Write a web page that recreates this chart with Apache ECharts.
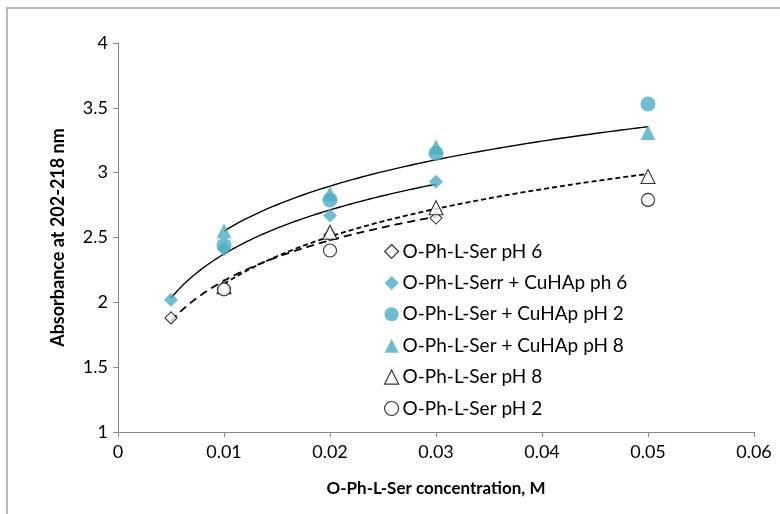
<!DOCTYPE html>
<html>
<head>
<meta charset="utf-8">
<script src="https://cdn.jsdelivr.net/npm/echarts@6/dist/echarts.min.js"></script>
<style>
html,body{margin:0;padding:0;background:#fff;}
#chart{width:780px;height:514px;}
</style>
</head>
<body>
<div id="chart"></div>
<script>
// Data
const xTicks = [0, 0.01, 0.02, 0.03, 0.04, 0.05, 0.06];
const yTicks = [1, 1.5, 2, 2.5, 3, 3.5, 4];

const ph6X = [0.005, 0.01, 0.02, 0.03];
const ph6Y = [1.88, 2.11, 2.52, 2.65];

const cuPh6X = [0.005, 0.01, 0.02, 0.03];
const cuPh6Y = [2.02, 2.41, 2.67, 2.93];

const cuPh2X = [0.01, 0.02, 0.03, 0.05];
const cuPh2Y = [2.44, 2.79, 3.15, 3.53];

const cuPh8X = [0.01, 0.02, 0.03, 0.05];
const cuPh8Y = [2.55, 2.84, 3.20, 3.31];

const ph8X = [0.01, 0.02, 0.03, 0.05];
const ph8Y = [2.12, 2.54, 2.73, 2.97];

const ph2X = [0.01, 0.02, 0.05];
const ph2Y = [2.10, 2.40, 2.79];

const CYAN = '#4bacc6';
const FONT = 'Lato';

function pairs(xs, ys){ return xs.map((x,i)=>[x, ys[i]]); }

// logarithmic trendline (least squares on ln x), as the spreadsheet draws it
function logTrend(xs, ys){
  const n = xs.length;
  const lx = xs.map(Math.log);
  const mx = lx.reduce((a,b)=>a+b,0)/n;
  const my = ys.reduce((a,b)=>a+b,0)/n;
  let sxy=0, sxx=0;
  for(let i=0;i<n;i++){ sxy += (lx[i]-mx)*(ys[i]-my); sxx += (lx[i]-mx)*(lx[i]-mx); }
  const b = sxy/sxx, a = my - b*mx;
  const x0 = Math.min(...xs), x1 = Math.max(...xs);
  const out = [];
  const steps = 80;
  for(let k=0;k<=steps;k++){
    const x = x0 + (x1-x0)*k/steps;
    out.push([x, a + b*Math.log(x)]);
  }
  return out;
}

function trend(xs, ys, type, width){
  return {
    type:'line', data: logTrend(xs, ys), showSymbol:false, symbol:'none', smooth:false,
    lineStyle:{color:'#000', width:width, type:type}, silent:true, z:3, legendHoverLink:false
  };
}

function scatter(name, xs, ys, symbol, size, filled){
  return {
    name:name, type:'scatter', data: pairs(xs, ys), symbol:symbol, symbolSize:size,
    itemStyle: filled ? {color:CYAN} : {color:'#fff', borderColor:'#000', borderWidth:1.1},
    z:4
  };
}

const names = [
  'O-Ph-L-Ser pH 6',
  'O-Ph-L-Serr + CuHAp ph 6',
  'O-Ph-L-Ser + CuHAp pH 2',
  'O-Ph-L-Ser + CuHAp pH 8',
  'O-Ph-L-Ser pH 8',
  'O-Ph-L-Ser pH 2'
];

const chart = echarts.init(document.getElementById('chart'));
chart.setOption({
  animation:false,
  backgroundColor:'#fff',
  graphic:[
    {type:'line', shape:{x1:6, y1:8, x2:780, y2:8}, style:{stroke:'#a6a6a6', lineWidth:1.5}},
    {type:'line', shape:{x1:7, y1:8, x2:7, y2:514}, style:{stroke:'#a6a6a6', lineWidth:1.5}}
  ],
  grid:{left:118, right:26, top:43, bottom:82},
  legend:{
    data: names.map((n,i)=>({name:n, itemStyle: i===0||i>=4 ? {color:'#fff', borderColor:'#000', borderWidth:1.2} : {color:CYAN}})),
    orient:'vertical', left:379, top:237, itemWidth:14, itemHeight:14, itemGap:12.4,
    textStyle:{fontFamily:FONT, fontSize:19, color:'#000', padding:[0,0,0,-1]},
    selectedMode:false
  },
  xAxis:{
    type:'value', min:0, max:0.06, interval:0.01,
    axisLine:{show:true, lineStyle:{color:'#868686', width:1}},
    axisTick:{show:true, length:5, lineStyle:{color:'#868686'}},
    splitLine:{show:false},
    axisLabel:{fontFamily:FONT, fontSize:18, color:'#000', margin:11,
      formatter: v => String(parseFloat(v.toFixed(2)))},
    name:'O-Ph-L-Ser concentration, M', nameLocation:'middle', nameGap:48,
    nameTextStyle:{fontFamily:FONT, fontSize:17, fontWeight:'bold', color:'#000'}
  },
  yAxis:{
    type:'value', min:1, max:4, interval:0.5,
    axisLine:{show:true, lineStyle:{color:'#868686', width:1}},
    axisTick:{show:true, length:5, lineStyle:{color:'#868686'}},
    splitLine:{show:false},
    axisLabel:{fontFamily:FONT, fontSize:18, color:'#000', margin:10,
      formatter: v => String(parseFloat(v.toFixed(1)))},
    name:'Absorbance at 202-218 nm', nameLocation:'middle', nameGap:51,
    nameTextStyle:{fontFamily:FONT, fontSize:18, fontWeight:'bold', color:'#000'}
  },
  series:[
    scatter(names[0], ph6X, ph6Y, 'diamond', 12, false),
    scatter(names[1], cuPh6X, cuPh6Y, 'diamond', 14, true),
    scatter(names[2], cuPh2X, cuPh2Y, 'circle', 15, true),
    scatter(names[3], cuPh8X, cuPh8Y, 'triangle', 15, true),
    scatter(names[4], ph8X, ph8Y, 'triangle', 14, false),
    scatter(names[5], ph2X, ph2Y, 'circle', 13, false),
    trend(cuPh6X, cuPh6Y, 'solid', 1.4),
    trend(cuPh8X, cuPh8Y, 'solid', 1.4),
    trend(ph6X, ph6Y, [8,5], 1.8),
    trend(ph8X, ph8Y, [5,3], 1.8)
  ]
});
</script>
</body>
</html>
